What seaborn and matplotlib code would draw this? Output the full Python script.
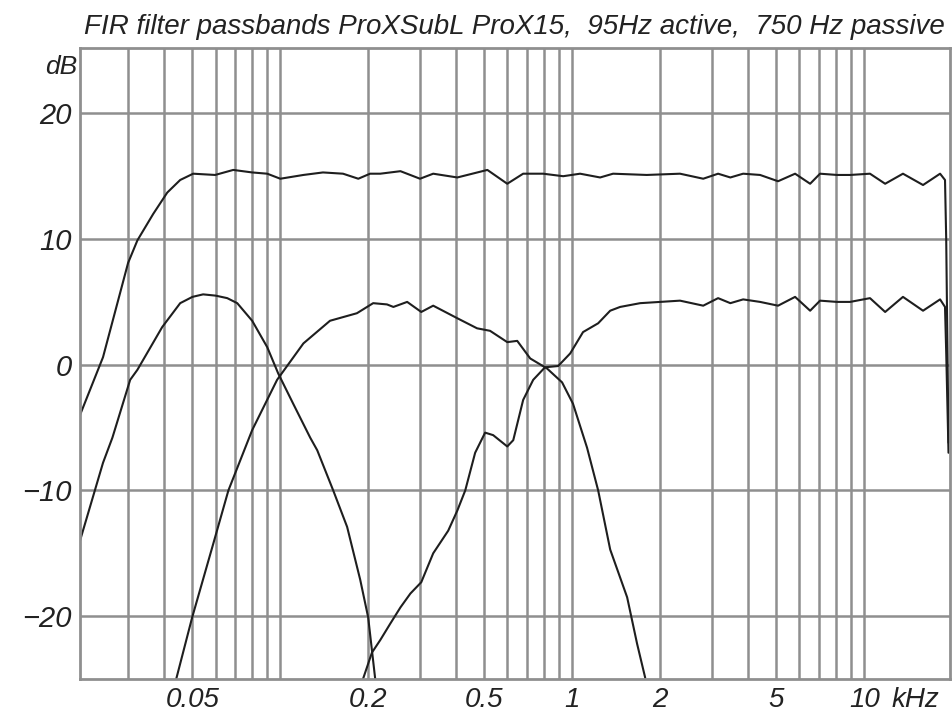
"""FIR filter passbands, ProXSubL / ProX15 crossover."""

import matplotlib

matplotlib.use("Agg", force=True)

import matplotlib.pyplot as plt
import pandas as pd
import seaborn as sns

# frequencies in kHz, levels in dB
sum_freq = [0.0206, 0.0247, 0.0301, 0.0324, 0.0367, 0.0410, 0.0454, 0.0503,
            0.0598, 0.0690, 0.0801, 0.0902, 0.100, 0.120, 0.140, 0.164, 0.185,
            0.203, 0.220, 0.258, 0.301, 0.334, 0.404, 0.512, 0.599, 0.679,
            0.795, 0.931, 1.064, 1.246, 1.380, 1.80, 2.34, 2.81, 3.16, 3.48,
            3.85, 4.40, 5.07, 5.80, 6.53, 7.06, 8.07, 8.95, 10.47, 11.80,
            13.58, 15.91, 18.20, 18.92, 19.1, 19.45]
sum_db = [-4.0, 0.6, 8.1, 9.9, 12.0, 13.7, 14.7, 15.2,
          15.1, 15.5, 15.3, 15.2, 14.8, 15.1, 15.3, 15.2, 14.8,
          15.2, 15.2, 15.4, 14.8, 15.2, 14.9, 15.5, 14.4, 15.2,
          15.2, 15.0, 15.2, 14.9, 15.2, 15.1, 15.2, 14.8, 15.2, 14.9,
          15.2, 15.1, 14.6, 15.2, 14.4, 15.2, 15.1, 15.1, 15.2, 14.4,
          15.2, 14.3, 15.2, 14.7, 10.0, -6.2]

sub_freq = [0.0206, 0.0247, 0.0266, 0.0306, 0.0324, 0.0394, 0.0454, 0.0500,
            0.0544, 0.0600, 0.0658, 0.0712, 0.0801, 0.0902, 0.0984, 0.1107,
            0.1266, 0.1338, 0.1518, 0.1694, 0.1878, 0.200, 0.2114]
sub_db = [-14.0, -7.8, -5.8, -1.2, -0.4, 3.0, 4.9, 5.4,
          5.6, 5.5, 5.3, 4.9, 3.5, 1.4, -0.7, -3.1,
          -5.8, -6.8, -10.0, -12.9, -17.1, -20.1, -25.0]

mid_freq = [0.0440, 0.0499, 0.0585, 0.0664, 0.0801, 0.0975, 0.120, 0.148,
            0.183, 0.208, 0.232, 0.244, 0.272, 0.304, 0.334, 0.404, 0.472,
            0.523, 0.599, 0.648, 0.718, 0.82, 0.923, 1.006, 1.124, 1.227,
            1.349, 1.542, 1.668, 1.778]
mid_db = [-25.0, -20.1, -14.5, -10.0, -5.2, -1.2, 1.7, 3.5,
          4.1, 4.9, 4.8, 4.6, 5.0, 4.2, 4.7, 3.7, 2.9,
          2.7, 1.8, 1.9, 0.5, -0.3, -1.4, -3.1, -6.6, -10.0,
          -14.7, -18.5, -22.2, -24.9]

tw_freq = [0.192, 0.206, 0.220, 0.238, 0.258, 0.279, 0.304, 0.334, 0.376,
           0.404, 0.430, 0.465, 0.503, 0.536, 0.599, 0.628, 0.679, 0.735,
           0.807, 0.895, 0.984, 1.089, 1.227, 1.349, 1.459, 1.709, 2.0,
           2.34, 2.81, 3.16, 3.48, 3.85, 4.40, 5.07, 5.80, 6.53, 7.06, 8.07,
           8.95, 10.47, 11.80, 13.58, 15.91, 18.20, 18.92, 19.1, 19.45]
tw_db = [-25.0, -22.9, -21.9, -20.6, -19.3, -18.2, -17.3, -15.0, -13.2,
         -11.6, -10.0, -7.0, -5.4, -5.6, -6.5, -6.0, -2.8, -1.2,
         -0.2, -0.1, 0.9, 2.6, 3.3, 4.3, 4.6, 4.9, 5.0,
         5.1, 4.7, 5.3, 4.9, 5.2, 5.0, 4.7, 5.4, 4.3, 5.1, 5.0,
         5.0, 5.3, 4.2, 5.4, 4.3, 5.2, 4.6, 1.0, -7.0]

x_label_freqs = [0.05, 0.2, 0.5, 1, 2, 5, 10]
x_labels = ["0.05", "0.2", "0.5", "1", "2", "5", "10"]
x_grid_freqs = [0.03, 0.04, 0.06, 0.07, 0.08, 0.09, 0.1, 0.3, 0.4, 0.6,
                0.7, 0.8, 0.9, 3, 4, 6, 7, 8, 9]
y_ticks = [-20, -10, 0, 10, 20]
y_labels = ["\u221220", "\u221210", "0", "10", "20"]

title = "FIR filter passbands ProXSubL ProX15,  95Hz active,  750 Hz passive"

curves = pd.concat([
    pd.DataFrame({"freq": sum_freq, "db": sum_db, "band": "sum"}),
    pd.DataFrame({"freq": sub_freq, "db": sub_db, "band": "sub"}),
    pd.DataFrame({"freq": mid_freq, "db": mid_db, "band": "mid"}),
    pd.DataFrame({"freq": tw_freq, "db": tw_db, "band": "tweeter"}),
], ignore_index=True)

sns.set_style("white")
plt.rcParams["font.family"] = ["Liberation Sans", "DejaVu Sans"]

grid_col = "#8f8f8f"
text_col = "#222222"

fig = plt.figure(figsize=(9.53, 7.15), dpi=100)
ax = fig.add_axes([80 / 953, 36 / 715, 870 / 953, 631 / 715])

sns.lineplot(data=curves, x="freq", y="db", units="band", estimator=None,
             sort=False, color="#1e1e1e", linewidth=1.5, ax=ax)

ax.set_xscale("log")
ax.set_xlim(0.0206, 19.68)
ax.set_ylim(-25, 25.2)

ax.set_xticks(x_label_freqs)
ax.set_xticklabels(x_labels)
ax.set_xticks(x_grid_freqs, minor=True)
ax.xaxis.set_minor_formatter(matplotlib.ticker.NullFormatter())
ax.set_yticks(y_ticks)
ax.set_yticklabels(y_labels)
ax.tick_params(which="both", length=0)
ax.tick_params(axis="x", pad=6)
ax.tick_params(axis="y", pad=6)

for lab in ax.get_xticklabels():
    lab.set_fontsize(20)
    lab.set_fontstyle("italic")
    lab.set_color(text_col)
for lab in ax.get_yticklabels():
    lab.set_fontsize(21)
    lab.set_fontstyle("italic")
    lab.set_color(text_col)

ax.grid(True, which="both", axis="x", color=grid_col, linewidth=1.8)
ax.grid(True, which="major", axis="y", color=grid_col, linewidth=1.8)
ax.set_axisbelow(True)
for spine in ax.spines.values():
    spine.set_color(grid_col)
    spine.set_linewidth(2)

ax.set_xlabel("")
ax.set_ylabel("")

ax.annotate("kHz", xy=(10, 0), xycoords=("data", "axes fraction"),
            xytext=(20, -6), textcoords="offset points", ha="left", va="top",
            fontsize=20, style="italic", color=text_col)
ax.annotate("dB", xy=(0, 1), xycoords="axes fraction", xytext=(-2, -5),
            textcoords="offset points", ha="right", va="top", fontsize=19,
            style="italic", color=text_col)

fig.text(945 / 953, 1 - 27 / 715, title, ha="right", va="center",
         fontsize=20, style="italic", color=text_col)

fig.savefig("out.png", dpi=100, facecolor="white")
plt.close(fig)
